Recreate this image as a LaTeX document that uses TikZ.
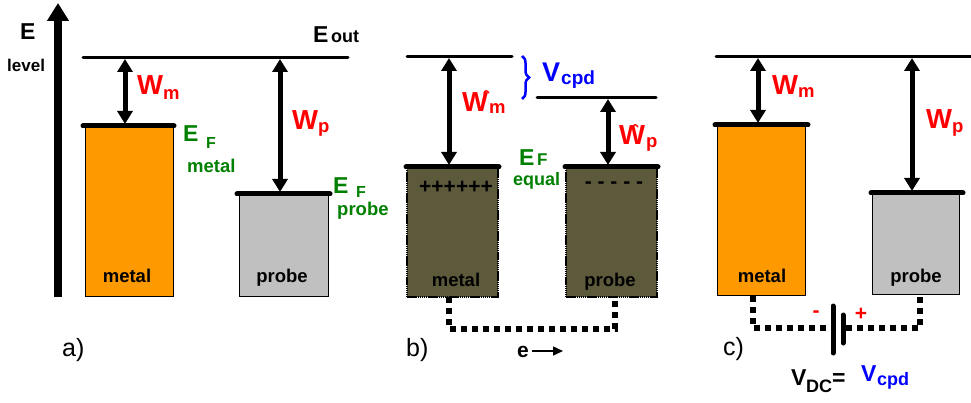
\documentclass[tikz,border=0pt]{standalone}
\usepackage{fontspec}
\setmainfont{Liberation Sans}
\usetikzlibrary{arrows.meta,decorations.pathreplacing}
\definecolor{orng}{HTML}{FF9900}
\definecolor{gry}{HTML}{C0C0C0}
\definecolor{olv}{HTML}{5D5A3C}
\definecolor{grn}{HTML}{008000}
\definecolor{rd}{HTML}{FF0000}
\definecolor{bl}{HTML}{0000FF}
\newcommand{\fsz}[1]{\fontsize{#1}{#1}\selectfont}
\tikzset{
  lvl/.style={line width=3pt, line cap=round},
  fermi/.style={line width=5pt, line cap=round},
  warrow/.style={line width=5pt, {Triangle[width=15pt,length=13pt]}-{Triangle[width=15pt,length=13pt]}, shorten <=1pt, shorten >=2pt},
  boxa/.style={draw=black, line width=1pt, inner sep=0pt},
  boxb/.style={draw=black, line width=1.5pt, dash pattern=on 1.5pt off 0.6pt, fill=olv, inner sep=0pt},
  wire/.style={line width=6pt, dash pattern=on 6pt off 5pt},
  txt/.style={inner sep=0pt, anchor=base west, font=\bfseries},
  lbl/.style={inner sep=0pt, anchor=base, font=\bfseries\fsz{18.5}},
}
\begin{document}
\begin{tikzpicture}[x=1pt,y=-1pt]
\useasboundingbox (0,0) rectangle (971,403);
% ---------------- panel a ----------------
\coordinate (axb) at (58,297);
\coordinate (axt) at (58,3);
\draw[line width=8pt, -{Triangle[width=21pt,length=18pt]}] (axb) -- (axt);
\node[txt, font=\bfseries\fsz{23}] (eax) at (20,40) {E};
\node[txt, font=\bfseries\fsz{17}] (lev) at (7,72) {level};
\node[txt, font=\bfseries\fsz{23}] (eout) at (313,43) {E};
\node[txt, font=\bfseries\fsz{18}] (eoutsub) at (331,43) {out};
\coordinate (la1) at (83,58);
\coordinate (la2) at (348,58);
\draw[lvl] (la1) -- (la2);
\node[boxa, fill=orng, minimum width=88pt, minimum height=170pt] (ma) at (129,211) {};
\node[boxa, fill=gry, minimum width=89pt, minimum height=102pt] (pa) at (283.5,245) {};
\coordinate (fa1) at (83,126); \coordinate (fa2) at (174,126);
\draw[fermi] (fa1) -- (fa2);
\coordinate (fb1) at (237,194); \coordinate (fb2) at (330,194);
\draw[fermi] (fb1) -- (fb2);
\coordinate (wma) at (125,58); \coordinate (wmb) at (125,126);
\draw[warrow] (wma) -- (wmb);
\coordinate (wpa) at (280,58); \coordinate (wpb) at (280,194);
\draw[warrow] (wpa) -- (wpb);
\node[txt, rd, font=\bfseries\fsz{27.5}] (wm1) at (137,95) {W};
\node[txt, rd, font=\bfseries\fsz{18.5}] (wm1s) at (163,100) {m};
\node[txt, rd, font=\bfseries\fsz{27.5}] (wp1) at (292,130) {W};
\node[txt, rd, font=\bfseries\fsz{18.5}] (wp1s) at (318,133) {p};
\node[txt, grn, font=\bfseries\fsz{23}] (efm) at (183,142) {E};
\node[txt, grn, font=\bfseries\fsz{16}] (efms) at (206,149) {F};
\node[txt, grn, font=\bfseries\fsz{18.5}] (efmt) at (187,173) {metal};
\node[txt, grn, font=\bfseries\fsz{23}] (efp) at (333,194) {E};
\node[txt, grn, font=\bfseries\fsz{16}] (efps) at (356,198) {F};
\node[txt, grn, font=\bfseries\fsz{18.5}] (efpt) at (337,216) {probe};
\node[lbl] (tma) at (127,283) {metal};
\node[lbl] (tpa) at (282,283) {probe};
\node[inner sep=0pt, anchor=base west, font=\fsz{25}] (la) at (62,356) {a)};
% ---------------- panel b ----------------
\coordinate (lb1) at (407,57); \coordinate (lb2) at (512,57);
\draw[lvl] (lb1) -- (lb2);
\coordinate (lc1) at (537,98); \coordinate (lc2) at (656,98);
\draw[lvl] (lc1) -- (lc2);
\node[boxb, minimum width=91pt, minimum height=130pt] (mb) at (452.5,232) {};
\node[boxb, minimum width=91pt, minimum height=130pt] (pb) at (611.5,232) {};
\coordinate (fc1) at (406,167); \coordinate (fc2) at (499,167);
\draw[fermi] (fc1) -- (fc2);
\coordinate (fd1) at (565,167); \coordinate (fd2) at (658,167);
\draw[fermi] (fd1) -- (fd2);
\coordinate (wbma) at (449,57); \coordinate (wbmb) at (449,167);
\draw[warrow] (wbma) -- (wbmb);
\coordinate (wbpa) at (608,98); \coordinate (wbpb) at (608,167);
\draw[warrow] (wbpa) -- (wbpb);
\node[txt, rd, font=\bfseries\fsz{27.5}] (wm2) at (462,112) {W};
\node[txt, rd, font=\bfseries\fsz{18.5}] (wm2s) at (489,114) {m};
\draw[rd, line width=1.3pt, line cap=round] (484,93) .. controls (485,90) and (487,90) .. (489,93);
\node[txt, rd, font=\bfseries\fsz{27.5}] (wp2) at (619,145) {W};
\node[txt, rd, font=\bfseries\fsz{18.5}] (wp2s) at (646,148) {p};
\draw[rd, line width=1.3pt, line cap=round] (633,127) .. controls (634,124) and (636,124) .. (638,127);
\coordinate (br1) at (522,56); \coordinate (br2) at (522,99);
\draw[bl, line width=2.5pt, decorate, decoration={brace, amplitude=7pt}] (br1) -- (br2);
\node[txt, bl, font=\bfseries\fsz{27}] (vc) at (542,82) {V};
\node[txt, bl, font=\bfseries\fsz{19}] (vcs) at (561,85) {cpd};
\node[txt, grn, font=\bfseries\fsz{23}] (efe) at (519,166) {E};
\node[txt, grn, font=\bfseries\fsz{17}] (efes) at (537,166) {F};
\node[txt, grn, font=\bfseries\fsz{18}] (efet) at (513,186) {equal};
\node[inner sep=0pt, anchor=center, font=\bfseries\fsz{21}] (plus) at (456,187) {++++++};
\node[inner sep=0pt, anchor=center, font=\bfseries\fsz{21}] (minus) at (614,185) {- - - - -};
\node[lbl] (tmb) at (456,287) {metal};
\node[lbl] (tpb) at (610,287) {probe};
\coordinate (wb1) at (449,297); \coordinate (wb2) at (449,329);
\coordinate (wb3) at (615,329); \coordinate (wb4) at (615,297);
\draw[wire] (wb1) -- (wb2) -- (wb3) -- (wb4);
\node[txt, font=\bfseries\fsz{21}] (el) at (517,357) {e};
\coordinate (ea1) at (532,351); \coordinate (ea2) at (563,351);
\draw[line width=1.5pt, -{Triangle[width=9pt,length=10pt]}] (ea1) -- (ea2);
\node[inner sep=0pt, anchor=base west, font=\fsz{25}] (lb) at (406,356) {b)};
% ---------------- panel c ----------------
\coordinate (ld1) at (716,57); \coordinate (ld2) at (975,57);
\draw[lvl] (ld1) -- (ld2);
\node[boxa, fill=orng, minimum width=88pt, minimum height=170pt] (mc) at (761,210) {};
\node[boxa, fill=gry, minimum width=87pt, minimum height=101pt] (pc) at (915.5,243.5) {};
\coordinate (fe1) at (715,125); \coordinate (fe2) at (808,125);
\draw[fermi] (fe1) -- (fe2);
\coordinate (ff1) at (871,193); \coordinate (ff2) at (963,193);
\draw[fermi] (ff1) -- (ff2);
\coordinate (wcma) at (758,57); \coordinate (wcmb) at (758,125);
\draw[warrow] (wcma) -- (wcmb);
\coordinate (wcpa) at (912,57); \coordinate (wcpb) at (912,193);
\draw[warrow] (wcpa) -- (wcpb);
\node[txt, rd, font=\bfseries\fsz{27.5}] (wm3) at (772,95) {W};
\node[txt, rd, font=\bfseries\fsz{18.5}] (wm3s) at (798,98) {m};
\node[txt, rd, font=\bfseries\fsz{27.5}] (wp3) at (926,129) {W};
\node[txt, rd, font=\bfseries\fsz{18.5}] (wp3s) at (952,133) {p};
\node[lbl] (tmc) at (762,282) {metal};
\node[lbl] (tpc) at (916,282) {probe};
\coordinate (wc1) at (753,296); \coordinate (wc2) at (753,328);
\coordinate (wc3) at (831,328);
\draw[wire] (wc1) -- (wc2) -- (wc3);
\coordinate (wc4) at (846,328); \coordinate (wc5) at (920,328);
\coordinate (wc6) at (920,296);
\draw[wire] (wc4) -- (wc5) -- (wc6);
\coordinate (bt1) at (833,306); \coordinate (bt2) at (833,353);
\draw[line width=5pt, line cap=round] (bt1) -- (bt2);
\coordinate (bt3) at (843,315); \coordinate (bt4) at (843,343);
\draw[line width=5pt, line cap=round] (bt3) -- (bt4);
\node[inner sep=0pt, rd, font=\bfseries\fsz{21}] (mn) at (816,314) {-};
\node[inner sep=0pt, rd, font=\bfseries\fsz{21}] (pl) at (861,314) {+};
\node[inner sep=0pt, anchor=base west, font=\fsz{25}] (lc) at (723,355) {c)};
\node[txt, font=\bfseries\fsz{23}] (vdc) at (791,385) {V};
\node[txt, font=\bfseries\fsz{18}] (vdcs) at (806,392) {DC};
\node[txt, font=\bfseries\fsz{23}] (eq) at (832,385) {=};
\node[txt, bl, font=\bfseries\fsz{23}] (vc2) at (861,381) {V};
\node[txt, bl, font=\bfseries\fsz{18}] (vc2s) at (877,385) {cpd};
\end{tikzpicture}
\end{document}
